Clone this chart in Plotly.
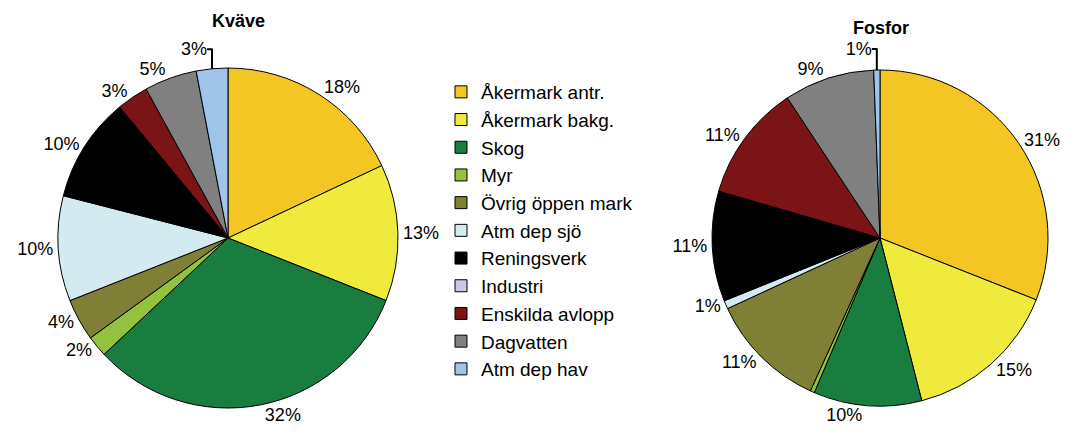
import plotly.graph_objects as go

categories = ["Åkermark antr.", "Åkermark bakg.", "Skog", "Myr", "Övrig öppen mark",
              "Atm dep sjö", "Reningsverk", "Industri", "Enskilda avlopp", "Dagvatten", "Atm dep hav"]
kvave = [18, 13, 32, 2, 4, 10, 10, 0, 3, 5, 3]
fosfor = [31, 15, 10.4, 0.4, 11.3, 0.8, 10.6, 0, 11.2, 8.7, 0.6]
colors = ["#F3C623", "#F0EA3C", "#1A7D40", "#92C23E", "#7F7F35",
          "#D3EBF0", "#000000", "#C8C8E6", "#7B1416", "#808080", "#A0C4E8"]

W, H, OFF = 1072, 436, 8  # page body margin offset


def labels_for(vals):
    return [f"{v:.0f}%" if v >= 0.5 else "" for v in vals]


def px_x(x):
    return (x - OFF) / W


def px_y(y):
    return 1 - (y - OFF) / H


fig = go.Figure()
common = dict(
    labels=categories, sort=False, direction="clockwise", rotation=0,
    marker=dict(colors=colors, line=dict(color="black", width=1)),
    textposition="outside", textinfo="text", hoverinfo="label+percent",
    textfont=dict(family="Liberation Sans, Arial", size=18, color="black"),
)
fig.add_trace(go.Pie(values=kvave, text=labels_for(kvave), name="Kväve",
                     domain=dict(x=[px_x(58), px_x(398)], y=[px_y(408), px_y(68)]), **common))
fig.add_trace(go.Pie(values=fosfor, text=labels_for(fosfor), name="Fosfor",
                     domain=dict(x=[px_x(712), px_x(1048)], y=[px_y(406), px_y(70)]), **common))

fig.update_layout(
    width=W, height=H, margin=dict(l=0, r=0, t=0, b=0),
    paper_bgcolor="white", plot_bgcolor="white",
    showlegend=True,
    legend=dict(x=px_x(441), y=px_y(73), xanchor="left", yanchor="top",
                font=dict(family="Liberation Sans, Arial", size=19, color="black"),
                bgcolor="rgba(0,0,0,0)", traceorder="normal"),
    annotations=[
        dict(text="<b>Kväve</b>", x=px_x(238), y=px_y(21), xref="paper", yref="paper",
             xanchor="center", yanchor="middle", showarrow=False,
             font=dict(family="Liberation Sans, Arial", size=18, color="black")),
        dict(text="<b>Fosfor</b>", x=px_x(881), y=px_y(28), xref="paper", yref="paper",
             xanchor="center", yanchor="middle", showarrow=False,
             font=dict(family="Liberation Sans, Arial", size=18, color="black")),
    ],
)
fig.write_html("out.html")
